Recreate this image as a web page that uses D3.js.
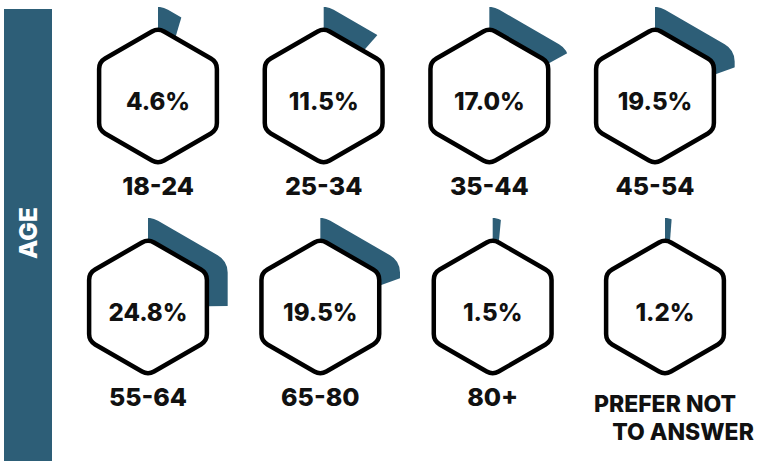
<!DOCTYPE html>
<html lang="en">
	<head>
		<meta charset="utf-8">
		<title>Age hexagons</title>
		<script type="text/javascript" src="https://cdn.jsdelivr.net/npm/d3@7/dist/d3.min.js" charset="utf-8"></script>
		<style type="text/css">
			body { margin: 0; background: #fff; }
			text { font-family: "Inter", "DejaVu Sans", sans-serif; font-weight: 800; }
		</style>
	</head>
	<body>
		<script type="text/javascript">
			//Data
			var categories = ["18-24", "25-34", "35-44", "45-54", "55-64", "65-80", "80+", "PREFER NOT TO ANSWER"];
			var values = [4.6, 11.5, 17.0, 19.5, 24.8, 19.5, 1.5, 1.2];
			var sideTitle = "AGE";

			var w = 762;
			var h = 461;
			var teal = "#2d5e77";
			var cols = 4;

			var svg = d3.select("body")
						.append("svg")
						.attr("width", w)
						.attr("height", h);

			//side band
			svg.append("rect")
			   .attr("x", 4)
			   .attr("y", 9)
			   .attr("width", 48)
			   .attr("height", h - 9)
			   .attr("fill", teal);

			svg.append("text")
			   .attr("transform", "translate(37,233) rotate(-90)")
			   .attr("text-anchor", "middle")
			   .attr("font-size", "25px")
			   .attr("fill", "#fff")
			   .text(sideTitle);

			//one x scale per row, a shared y scale
			var xRow = [
				d3.scalePoint().domain(d3.range(cols)).range([158, 655]),
				d3.scalePoint().domain(d3.range(cols)).range([148, 665])
			];
			var yScale = d3.scalePoint().domain([0, 1]).range([96, 307]);
			var angle = d3.scaleLinear().domain([0, 100]).range([0, 2 * Math.PI]);

			//rounded hexagon, pointy top
			function hexPath(r, corner) {
				var pts = d3.range(6).map(function(i) {
					var a = Math.PI / 3 * i;
					return [r * Math.sin(a), -r * Math.cos(a)];
				});
				var p = d3.path();
				var last = pts[5];
				p.moveTo((last[0] + pts[0][0]) / 2, (last[1] + pts[0][1]) / 2);
				for (var i = 0; i < 6; i++) {
					var cur = pts[i], nxt = pts[(i + 1) % 6];
					p.arcTo(cur[0], cur[1], nxt[0], nxt[1], corner);
				}
				p.closePath();
				return p.toString();
			}

			var outerHex = hexPath(92, 20);
			var innerHex = hexPath(68, 12);

			svg.append("defs")
			   .append("clipPath")
			   .attr("id", "outer")
			   .append("path")
			   .attr("d", outerHex);

			var arc = d3.arc()
						.innerRadius(0)
						.outerRadius(130)
						.startAngle(0)
						.endAngle(function(d) { return angle(d); });

			var cells = svg.selectAll("g.cell")
			   .data(values)
			   .enter()
			   .append("g")
			   .attr("class", "cell")
			   .attr("transform", function(d, i) {
					var row = Math.floor(i / cols), col = i % cols;
					return "translate(" + xRow[row](col) + "," + yScale(row) + ")";
			   });

			cells.append("path")
			   .attr("d", function(d) { return arc(d); })
			   .attr("clip-path", "url(#outer)")
			   .attr("fill", teal);

			cells.append("path")
			   .attr("d", innerHex)
			   .attr("fill", "#fff")
			   .attr("stroke", "#000")
			   .attr("stroke-width", 4.5)
			   .attr("stroke-linejoin", "round");

			cells.append("text")
			   .attr("text-anchor", "middle")
			   .attr("y", 14)
			   .attr("font-size", "24px")
			   .attr("fill", "#111")
			   .text(function(d) { return d.toFixed(1) + "%"; });

			//category labels
			cells.each(function(d, i) {
				var g = d3.select(this);
				var label = categories[i];
				if (label.length > 10) {
					var t = g.append("text")
					   .attr("text-anchor", "middle")
					   .attr("font-size", "23px")
					   .attr("fill", "#111");
					t.append("tspan").attr("x", 0).attr("y", 105).text("PREFER NOT");
					t.append("tspan").attr("x", 18).attr("y", 133).text("TO ANSWER");
				} else {
					g.append("text")
					   .attr("text-anchor", "middle")
					   .attr("y", 99)
					   .attr("font-size", "25px")
					   .attr("fill", "#111")
					   .text(label);
				}
			});
		</script>
	</body>
</html>
